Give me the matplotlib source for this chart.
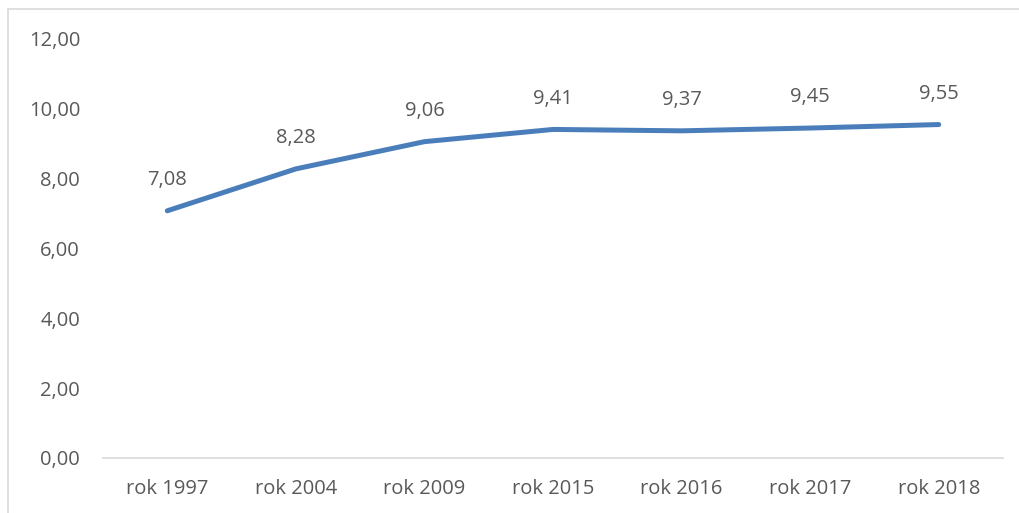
import matplotlib.pyplot as plt
from matplotlib.patches import Rectangle

years = ["rok 1997", "rok 2004", "rok 2009", "rok 2015", "rok 2016", "rok 2017", "rok 2018"]
values = [7.08, 8.28, 9.06, 9.41, 9.37, 9.45, 9.55]
y_ticks = [0, 2, 4, 6, 8, 10, 12]

W, H, DPI = 1019, 513, 100
TEXT = "#595959"
LINE = "#4A7EBB"

plt.rcParams["font.family"] = ["Open Sans", "DejaVu Sans"]

fig = plt.figure(figsize=(W / DPI, H / DPI), dpi=DPI)

# outer chart border (Excel style), runs off the right/bottom edge
fig.patches.append(Rectangle((8 / W, -0.1), 1.2, 1 - 9 / H + 0.1,
                             transform=fig.transFigure, fill=False,
                             edgecolor="#D9D9D9", linewidth=1.2))

ax = fig.add_axes([103 / W, (H - 458) / H, 900 / W, (458 - 39) / H])

x = list(range(len(years)))
ax.plot(x, values, color=LINE, linewidth=3.6, solid_capstyle="round", solid_joinstyle="round")

for xi, v in zip(x, values):
    ax.annotate(f"{v:.2f}".replace(".", ","), (xi, v), xytext=(0, 22),
                textcoords="offset points", ha="center", va="center",
                fontsize=14.5, color=TEXT)

ax.set_xlim(-0.5, len(years) - 0.5)
ax.set_ylim(0, 12)
ax.set_xticks(x)
ax.set_xticklabels(years)
ax.set_yticks(y_ticks)
ax.set_yticklabels([f"{t:.2f}".replace(".", ",") for t in y_ticks])
ax.tick_params(axis="both", length=0, labelsize=14.5, labelcolor=TEXT)
ax.tick_params(axis="y", pad=16.5)
ax.tick_params(axis="x", pad=15)

for side in ["top", "right", "left"]:
    ax.spines[side].set_visible(False)
ax.spines["bottom"].set_color("#D9D9D9")
ax.spines["bottom"].set_linewidth(1.2)

fig.savefig("out.png", dpi=DPI)
